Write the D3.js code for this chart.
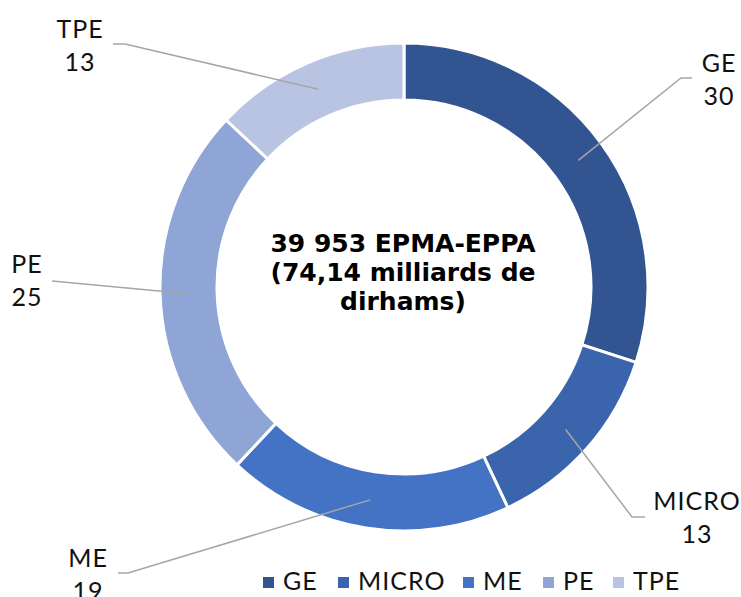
<!DOCTYPE html>
<html>
<head>
<meta charset="utf-8">
<script src="https://cdn.jsdelivr.net/npm/d3@7"></script>
<style>
  body { margin: 0; background: #fff; }
  svg { display: block; }
</style>
</head>
<body>
<div id="chart"></div>
<script>
// data
var categories = ["GE", "MICRO", "ME", "PE", "TPE"];
var values = [30, 13, 19, 25, 13];
var colors = ["#325591", "#3A64AC", "#4472C4", "#8FA5D5", "#B9C4E3"];
var centerLines = ["39 953 EPMA-EPPA", "(74,14 milliards de", "dirhams)"];

// label layout: text centre, elbow and end of the leader line
var labelPos = [
  { tx: 719, ty: 72, elbow: [681, 78], end: [692, 78] },
  { tx: 697, ty: 510, elbow: [632, 517], end: [645, 517] },
  { tx: 88, ty: 567, elbow: [128, 573], end: [118, 573] },
  { tx: 27, ty: 273, elbow: [52, 281], end: [52, 281] },
  { tx: 80, ty: 38, elbow: [125, 44], end: [113, 44] }
];

var svgWidth = 741, svgHeight = 597;
var cx = 404, cy = 287;
var outerR = 244, innerR = 187;

var svg = d3.select("#chart").append("svg")
  .attr("width", svgWidth)
  .attr("height", svgHeight);

var g = svg.append("g").attr("transform", `translate(${cx}, ${cy})`);

var pie = d3.pie().sort(null).value(d => d);
var arcs = pie(values);

var arc = d3.arc().innerRadius(innerR).outerRadius(outerR);

g.selectAll("path.slice")
  .data(arcs)
  .enter()
  .append("path")
  .attr("class", "slice")
  .attr("d", arc)
  .attr("fill", (d, i) => colors[i])
  .attr("stroke", "#fff")
  .attr("stroke-width", 3);

// leader lines
svg.selectAll("polyline.leader")
  .data(arcs)
  .enter()
  .append("polyline")
  .attr("class", "leader")
  .attr("points", function (d, i) {
    var c = arc.centroid(d);
    var p = labelPos[i];
    return [[c[0] + cx, c[1] + cy], p.elbow, p.end].map(q => q.join(",")).join(" ");
  })
  .attr("fill", "none")
  .attr("stroke", "#A6A6A6")
  .attr("stroke-width", 1.5);

// data labels
var labels = svg.selectAll("text.dlabel")
  .data(arcs)
  .enter()
  .append("text")
  .attr("class", "dlabel")
  .attr("text-anchor", "middle")
  .attr("font-family", "Lato, sans-serif")
  .attr("font-size", "25px")
  .attr("letter-spacing", "1px")
  .attr("fill", "#111");

labels.append("tspan")
  .attr("x", (d, i) => labelPos[i].tx)
  .attr("y", (d, i) => labelPos[i].ty)
  .text((d, i) => categories[i]);

labels.append("tspan")
  .attr("x", (d, i) => labelPos[i].tx)
  .attr("y", (d, i) => labelPos[i].ty + 33)
  .text(d => d.data);

// centre text
svg.append("text")
  .attr("text-anchor", "middle")
  .attr("font-family", "'DejaVu Sans', sans-serif")
  .attr("font-weight", "bold")
  .attr("font-size", "25px")
  .attr("fill", "#000")
  .selectAll("tspan")
  .data(centerLines)
  .enter()
  .append("tspan")
  .attr("x", 403)
  .attr("y", (d, i) => 252 + i * 29)
  .text(d => d);

// legend
var legendX = [263, 338, 463, 543, 613];
var legend = svg.selectAll("g.legend")
  .data(categories)
  .enter()
  .append("g")
  .attr("class", "legend")
  .attr("transform", (d, i) => `translate(${legendX[i]}, 577)`);

legend.append("rect")
  .attr("width", 11)
  .attr("height", 11)
  .attr("fill", (d, i) => colors[i]);

legend.append("text")
  .attr("x", 20)
  .attr("y", 13)
  .attr("font-family", "Lato, sans-serif")
  .attr("font-size", "25px")
  .attr("letter-spacing", "1px")
  .attr("fill", "#111")
  .text(d => d);
</script>
</body>
</html>
